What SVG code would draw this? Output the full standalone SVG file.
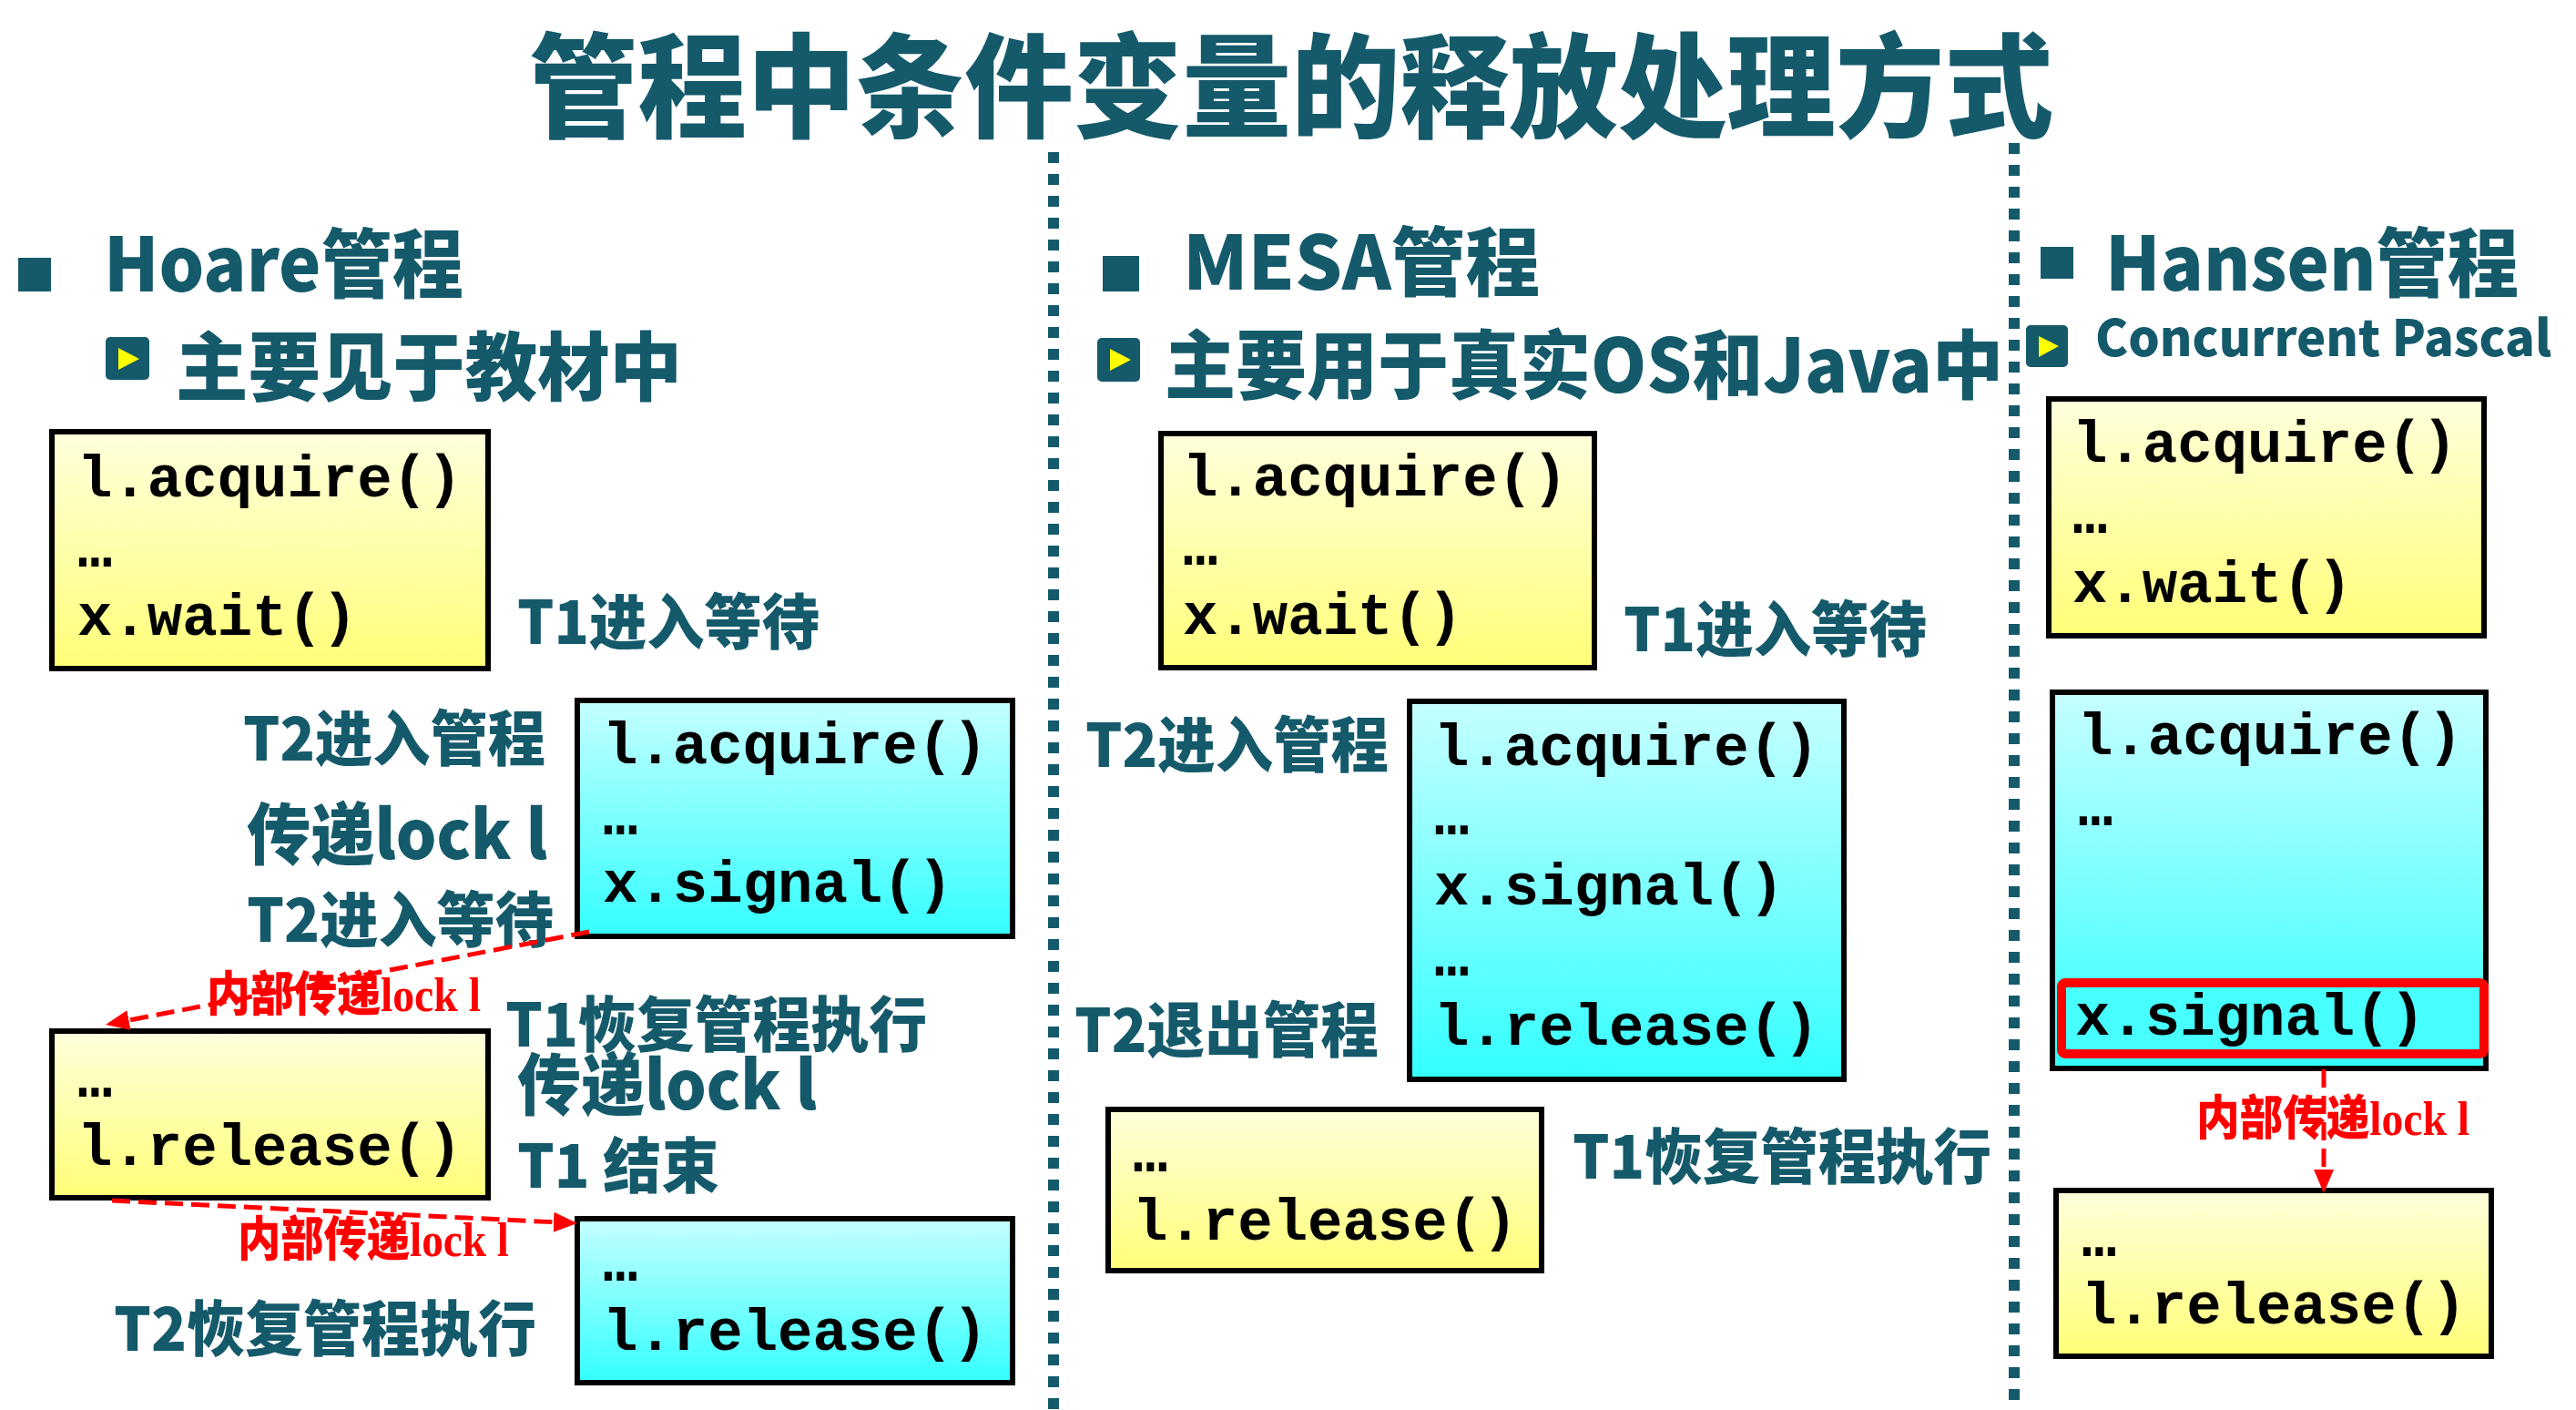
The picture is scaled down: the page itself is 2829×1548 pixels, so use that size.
<svg xmlns="http://www.w3.org/2000/svg" width="2829" height="1548" viewBox="0 0 2829 1548">
<defs>
<linearGradient id="yg" x1="0" y1="0" x2="0" y2="1"><stop offset="0" stop-color="#FFFFDC"/><stop offset="1" stop-color="#FFFF78"/></linearGradient>
<linearGradient id="cg" x1="0" y1="0" x2="0" y2="1"><stop offset="0" stop-color="#C6FFFF"/><stop offset="1" stop-color="#33FFFF"/></linearGradient>
<marker id="ah" viewBox="0 0 10 10" refX="0" refY="5" markerWidth="26" markerHeight="22" markerUnits="userSpaceOnUse" orient="auto" preserveAspectRatio="none"><path d="M0,0 L10,5 L0,10 z" fill="#FF0000"/></marker>
<style>
.t{font-family:"Noto Sans CJK SC","Noto Sans",sans-serif;font-weight:900;fill:#145A6B}
.c{font-family:"Liberation Mono","Courier New",monospace;font-weight:700;font-size:64px;fill:#000}
.y{fill:url(#yg);stroke:#000;stroke-width:6}
.cy{fill:url(#cg);stroke:#000;stroke-width:6}
.r{font-family:"Noto Sans CJK SC",sans-serif;font-weight:900;font-size:52px;fill:#FF0000}
.rl{font-family:"Liberation Serif","Times New Roman",serif;font-weight:700}
.sep{stroke:#145A6B;stroke-width:12;stroke-dasharray:12 12;fill:none}
.arr{stroke:#FF0000;stroke-width:5;stroke-dasharray:20 9;fill:none;marker-end:url(#ah)}
.lb{font-size:66px}
</style>
</defs>
<rect width="2829" height="1548" fill="#FFFFFF"/>

<g id="title"><text class="t" x="581" y="141" font-size="124" textLength="1674" lengthAdjust="spacingAndGlyphs">管程中条件变量的释放处理方式</text></g>

<g id="separators">
<line class="sep" x1="1157" y1="167" x2="1157" y2="1548"/>
<line class="sep" x1="2212" y1="157" x2="2212" y2="1548"/>
</g>

<g id="hoare-header">
<rect x="20" y="283" width="36" height="37" fill="#145A6B"/>
<text class="t" x="114" y="320" font-size="82" textLength="395" lengthAdjust="spacingAndGlyphs">Hoare管程</text>
<rect x="116" y="370" width="48" height="47" rx="5" fill="#145A6B"/>
<polygon points="130,382 153,394 130,406" fill="#FFFF00"/>
<text class="t" x="193" y="433" font-size="82" textLength="556" lengthAdjust="spacingAndGlyphs">主要见于教材中</text>
</g>

<g id="hoare-t1-box1">
<rect class="y" x="57" y="474" width="479" height="260"/>
<text class="c" x="85" y="545">l.acquire()</text>
<text class="c" x="85" y="622">…</text>
<text class="c" x="85" y="697">x.wait()</text>
</g>
<g id="hoare-t2-box1">
<rect class="cy" x="634" y="769" width="478" height="259"/>
<text class="c" x="662" y="838">l.acquire()</text>
<text class="c" x="662" y="916">…</text>
<text class="c" x="662" y="990">x.signal()</text>
</g>
<g id="hoare-t1-box2">
<rect class="y" x="57" y="1132" width="479" height="183"/>
<text class="c" x="85" y="1204">…</text>
<text class="c" x="85" y="1279">l.release()</text>
</g>
<g id="hoare-t2-box2">
<rect class="cy" x="634" y="1338" width="478" height="180"/>
<text class="c" x="662" y="1406">…</text>
<text class="c" x="662" y="1482">l.release()</text>
</g>

<g id="hoare-labels">
<text class="t lb" x="568" y="707" textLength="332" lengthAdjust="spacingAndGlyphs">T1进入等待</text>
<text class="t lb" x="267" y="835" textLength="332" lengthAdjust="spacingAndGlyphs">T2进入管程</text>
<text class="t" x="271" y="943" font-size="74" textLength="330" lengthAdjust="spacingAndGlyphs">传递lock l</text>
<text class="t lb" x="271" y="1034" textLength="337" lengthAdjust="spacingAndGlyphs">T2进入等待</text>
<text class="t lb" x="555" y="1149" textLength="463" lengthAdjust="spacingAndGlyphs">T1恢复管程执行</text>
<text class="t" x="568" y="1218" font-size="74" textLength="329" lengthAdjust="spacingAndGlyphs">传递lock l</text>
<text class="t lb" x="568" y="1304" textLength="222" lengthAdjust="spacingAndGlyphs">T1 结束</text>
<text class="t lb" x="125" y="1483" textLength="464" lengthAdjust="spacingAndGlyphs">T2恢复管程执行</text>
</g>

<g id="mesa-header">
<rect x="1211" y="281" width="40" height="39" fill="#145A6B"/>
<text class="t" x="1299" y="318" font-size="82" textLength="392" lengthAdjust="spacingAndGlyphs">MESA管程</text>
<rect x="1205" y="371" width="47" height="48" rx="5" fill="#145A6B"/>
<polygon points="1219,383 1242,395 1219,407" fill="#FFFF00"/>
<text class="t" x="1279" y="431" font-size="82" textLength="921" lengthAdjust="spacingAndGlyphs">主要用于真实OS和Java中</text>
</g>
<g id="mesa-t1-box1">
<rect class="y" x="1275" y="476" width="476" height="257"/>
<text class="c" x="1299" y="544">l.acquire()</text>
<text class="c" x="1299" y="620">…</text>
<text class="c" x="1299" y="696">x.wait()</text>
</g>
<g id="mesa-t2-box">
<rect class="cy" x="1548" y="770" width="477" height="415"/>
<text class="c" x="1575" y="840">l.acquire()</text>
<text class="c" x="1575" y="916">…</text>
<text class="c" x="1575" y="993">x.signal()</text>
<text class="c" x="1575" y="1071">…</text>
<text class="c" x="1575" y="1147">l.release()</text>
</g>
<g id="mesa-t1-box2">
<rect class="y" x="1217" y="1218" width="476" height="177"/>
<text class="c" x="1244" y="1286">…</text>
<text class="c" x="1244" y="1361">l.release()</text>
</g>
<g id="mesa-labels">
<text class="t lb" x="1783" y="715" textLength="333" lengthAdjust="spacingAndGlyphs">T1进入等待</text>
<text class="t lb" x="1192" y="842" textLength="333" lengthAdjust="spacingAndGlyphs">T2进入管程</text>
<text class="t lb" x="1180" y="1155" textLength="334" lengthAdjust="spacingAndGlyphs">T2退出管程</text>
<text class="t lb" x="1727" y="1294" textLength="460" lengthAdjust="spacingAndGlyphs">T1恢复管程执行</text>
</g>

<g id="hansen-header">
<rect x="2241" y="271" width="36" height="35" fill="#145A6B"/>
<text class="t" x="2312" y="319" font-size="82" textLength="454" lengthAdjust="spacingAndGlyphs">Hansen管程</text>
<rect x="2225" y="357" width="46" height="46" rx="5" fill="#145A6B"/>
<polygon points="2239,369 2261,380 2239,392" fill="#FFFF00"/>
<text class="t" x="2301" y="391" font-size="55" textLength="501" lengthAdjust="spacingAndGlyphs">Concurrent Pascal</text>
</g>
<g id="hansen-t1-box1">
<rect class="y" x="2250" y="438" width="478" height="260"/>
<text class="c" x="2276" y="507">l.acquire()</text>
<text class="c" x="2276" y="585">…</text>
<text class="c" x="2276" y="661">x.wait()</text>
</g>
<g id="hansen-t2-box">
<rect class="cy" x="2254" y="760" width="476" height="413"/>
<text class="c" x="2282" y="828">l.acquire()</text>
<text class="c" x="2282" y="906">…</text>
<rect x="2264" y="1079" width="464" height="78" rx="4" fill="#47FFFF" stroke="#FF0000" stroke-width="10"/>
<text class="c" x="2279" y="1136">x.signal()</text>
</g>
<g id="hansen-t1-box2">
<rect class="y" x="2258" y="1307" width="478" height="182"/>
<text class="c" x="2286" y="1379">…</text>
<text class="c" x="2286" y="1453">l.release()</text>
</g>

<g id="connectors">
<line class="arr" x1="647" y1="1023" x2="141.5" y2="1120.1"/>
<line class="arr" x1="123" y1="1318" x2="608" y2="1341.7"/>
<line class="arr" x1="2552" y1="1174" x2="2552" y2="1284"/>
</g>
<g id="connector-labels">
<text class="r" x="227" y="1110" textLength="301" lengthAdjust="spacingAndGlyphs">内部传递<tspan class="rl">lock l</tspan></text>
<text class="r" x="261" y="1379" textLength="298" lengthAdjust="spacingAndGlyphs">内部传递<tspan class="rl">lock l</tspan></text>
<text class="r" x="2412" y="1246" textLength="300" lengthAdjust="spacingAndGlyphs">内部传递<tspan class="rl">lock l</tspan></text>
</g>
</svg>
